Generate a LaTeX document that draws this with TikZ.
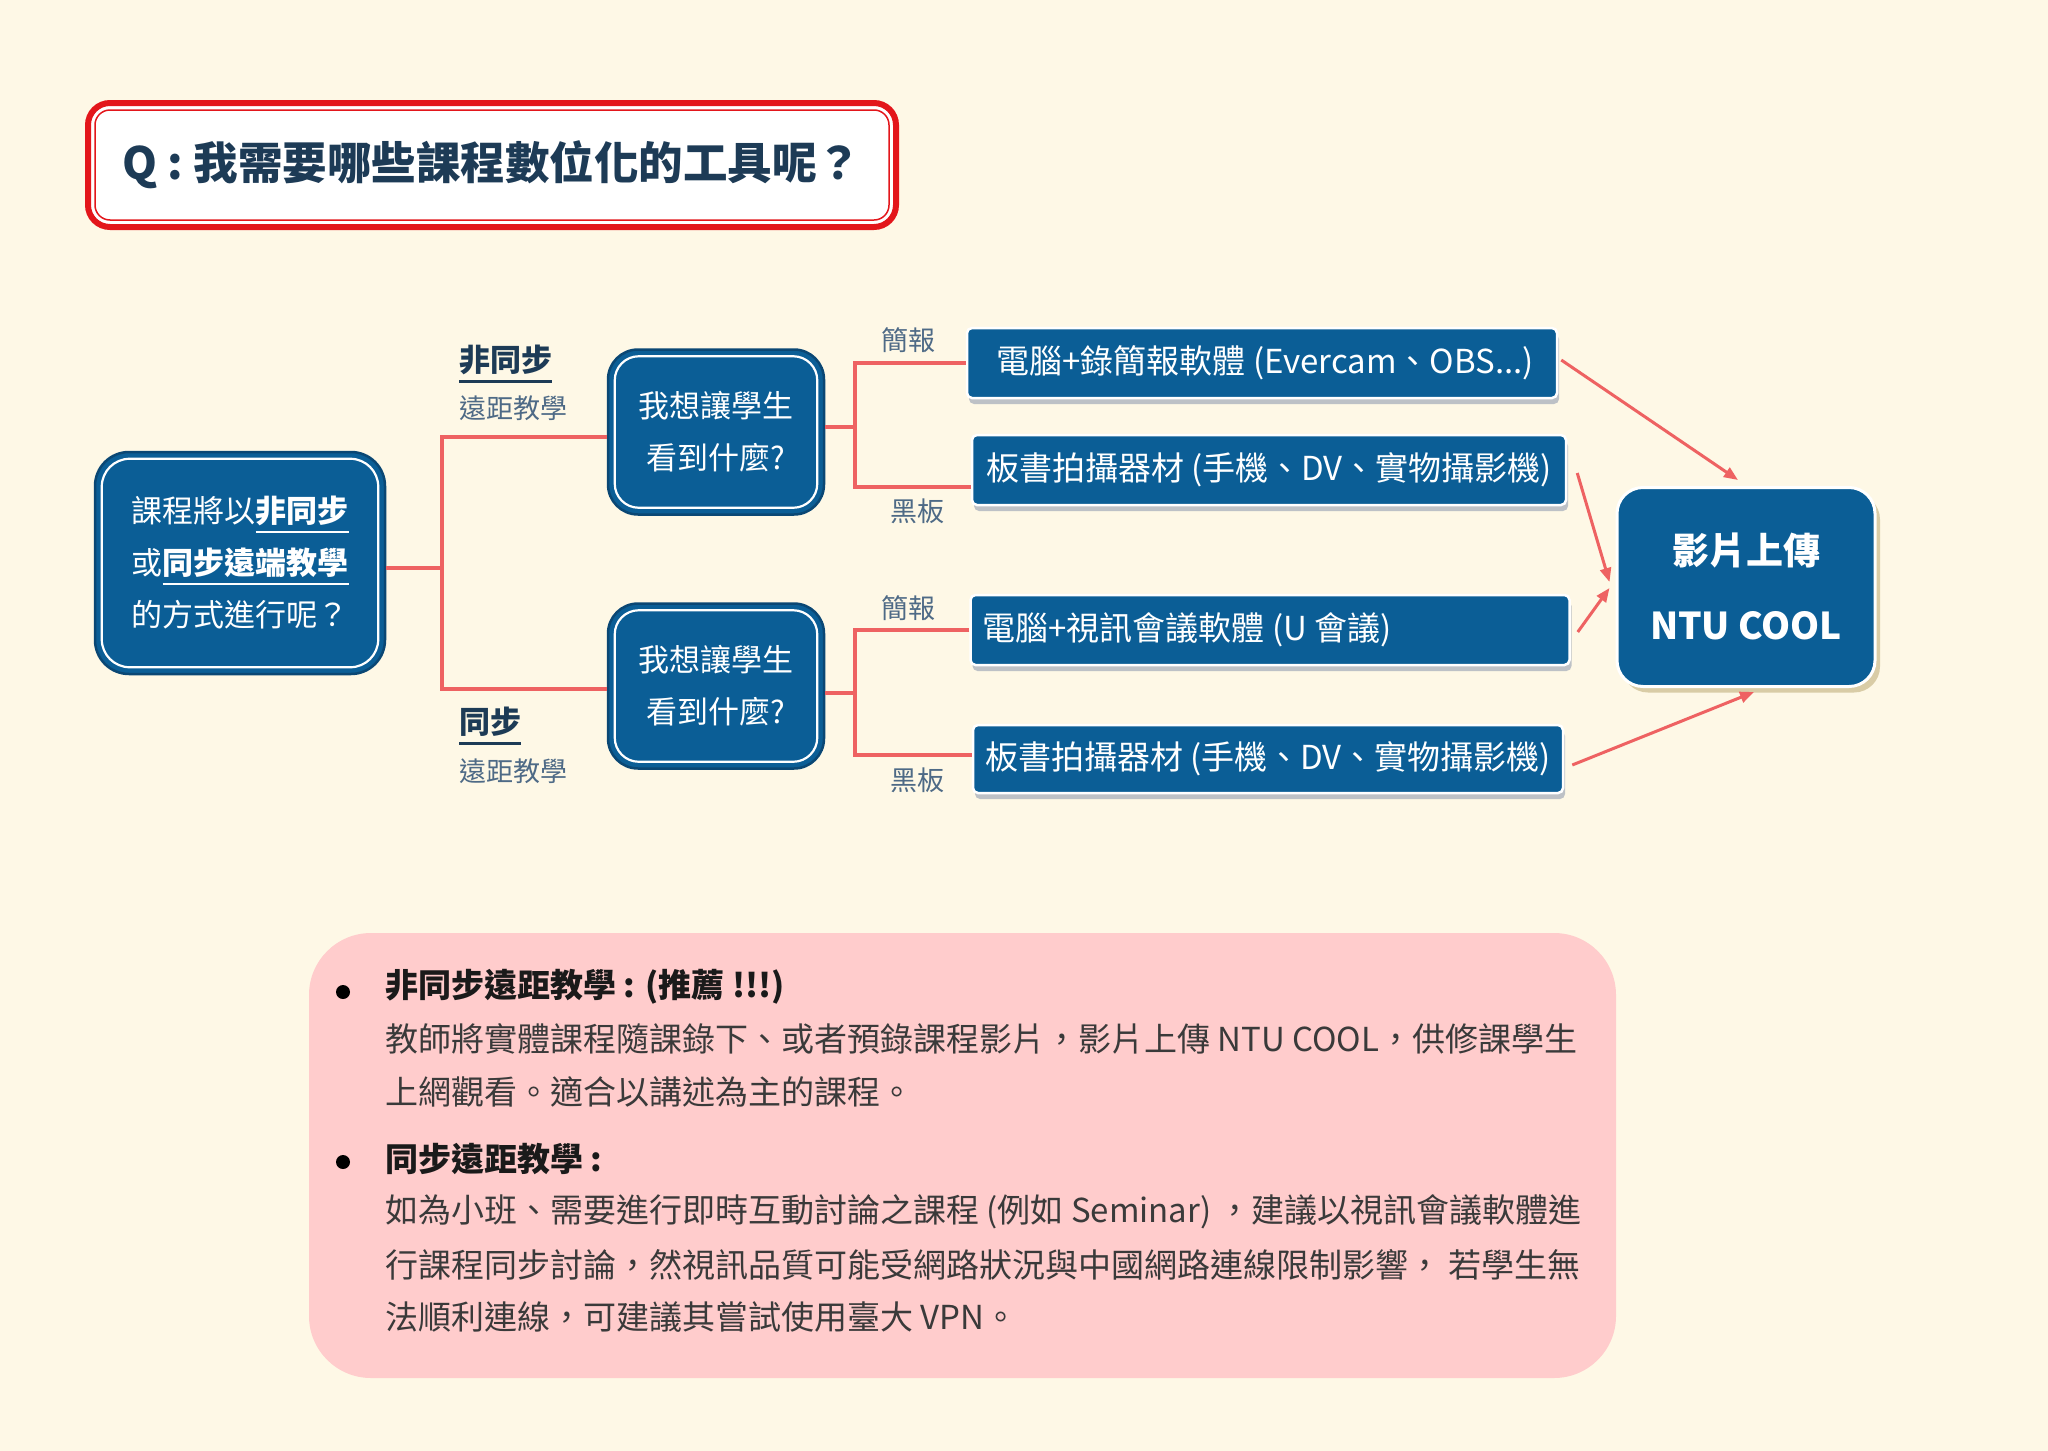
\documentclass[tikz,border=0pt]{standalone}
\usepackage{fontspec}
\setmainfont{Noto Sans CJK TC}
\usetikzlibrary{arrows.meta,calc,shadows}
\definecolor{bg}{HTML}{FEF8E6}
\definecolor{nodeblue}{HTML}{0B5E96}
\definecolor{edgeblue}{HTML}{0A4774}
\definecolor{linered}{HTML}{EE6262}
\definecolor{titlered}{HTML}{E3161B}
\definecolor{navy}{HTML}{1D3B56}
\definecolor{labelgray}{HTML}{4E6A86}
\definecolor{pinkbox}{HTML}{FFCCCC}
\definecolor{headtext}{HTML}{1A1A1A}
\definecolor{bodytext}{HTML}{3A3A3A}
\definecolor{shadowgray}{HTML}{BDC1C6}
\definecolor{shadowtan}{HTML}{D9CCA6}
\newcommand{\fsz}[2]{\fontsize{#1}{#2}\selectfont}
\newcommand{\myulc}[3][-10.5pt]{\setbox0=\hbox{#3}\rlap{\smash{\textcolor{#2}{\rule[#1]{\wd0}{2.5pt}}}}\box0}
\newcommand{\innerwhite}[3]{\draw[white,line width=2.2pt,rounded corners=#3] ($(#1.north west)+(#2,#2)$) rectangle ($(#1.south east)+(-#2,-#2)$);}
\begin{document}
\begin{tikzpicture}[x=1pt,y=-1pt,
  redline/.style={draw=linered,line width=4pt},
  arrowline/.style={draw=linered,line width=3pt,-{Triangle[length=14pt,width=11pt]}},
  bignode/.style={rectangle,rounded corners=#1,fill=nodeblue,draw=edgeblue,line width=2.5pt,text=white,align=center,inner sep=0pt},
  toolbox/.style={rectangle,rounded corners=5pt,fill=nodeblue,draw=white,line width=2.5pt,text=white,inner sep=0pt,font=\fsz{33}{33},drop shadow={shadow xshift=2pt,shadow yshift=-6pt,fill=shadowgray,opacity=1}},
  ntubox/.style={rectangle,rounded corners=26pt,fill=nodeblue,draw=white,line width=3pt,text=white,align=center,inner sep=0pt,drop shadow={shadow xshift=5pt,shadow yshift=-6pt,fill=shadowtan,opacity=1}},
  labhead/.style={anchor=west,text=navy,font=\fsz{31}{31}\bfseries,inner sep=0pt},
  labsub/.style={anchor=west,text=labelgray,font=\fsz{27}{27},inner sep=0pt},
  sidelab/.style={text=labelgray,font=\fsz{27}{27},inner sep=0pt},
  bodyhead/.style={anchor=west,text=headtext,font=\fsz{33}{33}\bfseries,inner sep=0pt},
  bodyline/.style={anchor=west,text=bodytext,font=\fsz{33}{33},inner sep=0pt},
  bulletdot/.style={circle,fill=black,minimum size=14pt,inner sep=0pt}
]
\fill[bg] (0,0) rectangle (2048,1451);
\useasboundingbox (0,0) rectangle (2048,1451);

% title
\node[draw=titlered,line width=6pt,fill=white,rounded corners=22pt,minimum width=808pt,minimum height=124pt,inner sep=0pt,text=navy,font=\fsz{44.5}{44.5}\bfseries] (title) at (492,165) {Q : 我需要哪些課程數位化的工具呢？};
\draw[titlered,line width=1.5pt,rounded corners=15pt] ($(title.north west)+(10,10)$) rectangle ($(title.south east)+(-10,-10)$);

% main nodes
\node[bignode=34pt,minimum width=290pt,minimum height=222pt,font=\fsz{31}{52}] (root) at (240,563)
  {課程將以\textbf{\myulc{white}{非同步}}\\或\textbf{\myulc{white}{同步遠端教學}}\\的方式進行呢？};
\innerwhite{root}{8}{28pt}
\node[bignode=30pt,minimum width=216pt,minimum height=165pt,font=\fsz{31}{52}] (q1) at (716,432) {我想讓學生\\看到什麼?};
\innerwhite{q1}{8}{24pt}
\node[bignode=30pt,minimum width=216pt,minimum height=165pt,font=\fsz{31}{52}] (q2) at (716,686) {我想讓學生\\看到什麼?};
\innerwhite{q2}{8}{24pt}

% tool boxes
\node[toolbox,minimum width=590pt,minimum height=70pt] (ta) at (1262,363) {\hspace*{6pt}電腦+錄簡報軟體 (Evercam、OBS...)};
\node[toolbox,minimum width=594pt,minimum height=70pt] (tb) at (1269,470) {板書拍攝器材 (手機、DV、實物攝影機)};
\node[toolbox,minimum width=599pt,minimum height=70pt] (tc) at (1270,630) {\hspace*{-166pt}電腦+視訊會議軟體 (U 會議)};
\node[toolbox,minimum width=590pt,minimum height=68pt] (td) at (1268,759) {板書拍攝器材 (手機、DV、實物攝影機)};

% NTU COOL
\node[ntubox,minimum width=258pt,minimum height=199pt,font=\fsz{37}{75}\bfseries] (ntu) at (1746,587)
  {\raisebox{6pt}{\begin{tabular}{@{}c@{}}影片上傳\\NTU COOL\end{tabular}}};

% branch labels
\node[labhead] (l1) at (459,360) {\myulc[-11pt]{navy}{非同步}};
\node[labsub] (l1b) at (459,408) {遠距教學};
\node[labhead] (l2) at (459,722) {\myulc[-11pt]{navy}{同步}};
\node[labsub] (l2b) at (459,771) {遠距教學};
\node[sidelab] (s1) at (908,340) {簡報};
\node[sidelab] (s2) at (917,511) {黑板};
\node[sidelab] (s3) at (908,608) {簡報};
\node[sidelab] (s4) at (917,780) {黑板};

% connectors
\coordinate (h1) at (0,437);
\coordinate (h2) at (0,689);
\coordinate (c0) at (442,568);
\coordinate (c1) at (855,427);
\coordinate (c2) at (855,693);
\draw[redline] (root.east|-c0) -- (c0);
\draw[redline] (q1.west|-h1) -| (c0) |- (q2.west|-h2);
\draw[redline] (q1.east|-c1) -- (c1);
\draw[redline] (ta.west) -| (c1) |- ($(tb.west)+(0,17)$);
\draw[redline] (q2.east|-c2) -- (c2);
\draw[redline] (tc.west) -| (c2) |- ($(td.west)+(0,-4)$);

% arrows to NTU COOL
\draw[arrowline] ($(ta.east)+(3,-3)$) -- ($(ntu.north)+(-8,-6)$);
\draw[arrowline] ($(tb.east)+(10,3)$) -- ($(ntu.west)+(-6,-5)$);
\draw[arrowline] ($(tc.east)+(7,2)$) -- ($(ntu.west)+(-6,1)$);
\draw[arrowline] ($(td.east)+(8,6)$) -- ($(ntu.south)+(8,4)$);

% notes box
\node[fill=pinkbox,rounded corners=62pt,minimum width=1307pt,minimum height=445pt,inner sep=0pt] (note) at (962.5,1155.5) {};
\node[bulletdot] (b1) at (343,992) {};
\node[bulletdot] (b2) at (343,1162) {};
\node[bodyhead] (n1) at (385,987) {非同步遠距教學 : (推薦 !!!)};
\node[bodyline] (n2) at (385,1039) {教師將實體課程隨課錄下、或者預錄課程影片，影片上傳 NTU COOL，供修課學生};
\node[bodyline] (n3) at (385,1092) {上網觀看。適合以講述為主的課程。};
\node[bodyhead] (n4) at (385,1159) {同步遠距教學 :};
\node[bodyline] (n5) at (385,1212) {如為小班、需要進行即時互動討論之課程 (例如 Seminar) ，建議以視訊會議軟體進};
\node[bodyline] (n6) at (385,1265) {行課程同步討論，然視訊品質可能受網路狀況與中國網路連線限制影響， 若學生無};
\node[bodyline] (n7) at (385,1317) {法順利連線，可建議其嘗試使用臺大 VPN。};
\end{tikzpicture}
\end{document}
